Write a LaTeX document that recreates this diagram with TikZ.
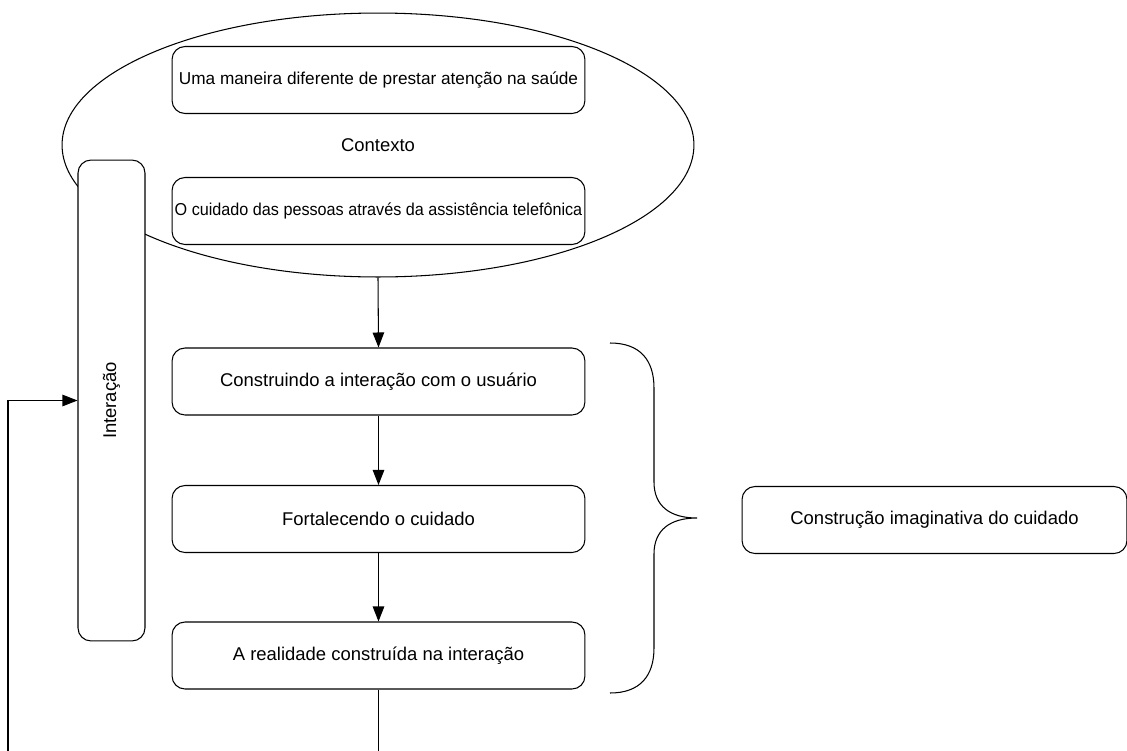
\documentclass[tikz,border=0pt]{standalone}
\usepackage{graphicx}
\usepackage{fontspec}
\setmainfont{Liberation Sans}
\usetikzlibrary{shapes.geometric,arrows.meta}

\begin{document}
\begin{tikzpicture}[x=0.02cm, y=-0.02cm,
	font=\fontsize{10.5}{12.5}\selectfont,
	caixa/.style={draw, line width=0.6pt, rounded corners=0.26cm, fill=white,
		minimum width=8.26cm, minimum height=1.34cm, inner sep=0pt},
	menor/.style={font=\fontsize{9.8}{11.5}\selectfont},
	seta/.style={line width=0.6pt, -{Triangle[length=0.3cm,width=0.23cm]}}]
\useasboundingbox (0,0) rectangle (1127,751);
\clip (0,0) rectangle (1127,751);

\node[ellipse, draw, line width=0.6pt, minimum width=12.64cm, minimum height=5.28cm,
	inner sep=0pt] (ctx) at (378,145) {Contexto};
\node[caixa, menor] (maneira) at (378.5,80) {Uma maneira diferente de prestar atenção na saúde};
\node[caixa, menor] (telefone) at (378.5,211)
	{\scalebox{0.94}[1]{O cuidado das pessoas através da assistência telefônica}};

\node[caixa, rotate=90, minimum width=9.62cm] (inter) at (111.5,400.5) {Interação};

\node[caixa] (c3) at (378.5,381.5) {Construindo a interação com o usuário};
\node[caixa] (c4) at (378.5,519) {Fortalecendo o cuidado};
\node[caixa] (c5) at (378.5,655.5) {A realidade construída na interação};
\node[caixa, minimum width=7.7cm] (imag) at (934.5,520) {Construção imaginativa do cuidado};

\coordinate (fundo) at (8,780);

\draw[seta] (ctx.south) -- (c3.north);
\draw[seta] (c3) -- (c4);
\draw[seta] (c4) -- (c5);
\draw[seta] (c5.south) |- (fundo) |- (inter.north);

% chave
\draw[line width=0.6pt] (610,343) .. controls (640,343) and (654,360) .. (654,388)
	-- (654,482) .. controls (654,506) and (670,518) .. (697,518)
	.. controls (670,518) and (654,530) .. (654,554)
	-- (654,648) .. controls (654,676) and (640,693) .. (610,693);

\end{tikzpicture}
\end{document}
